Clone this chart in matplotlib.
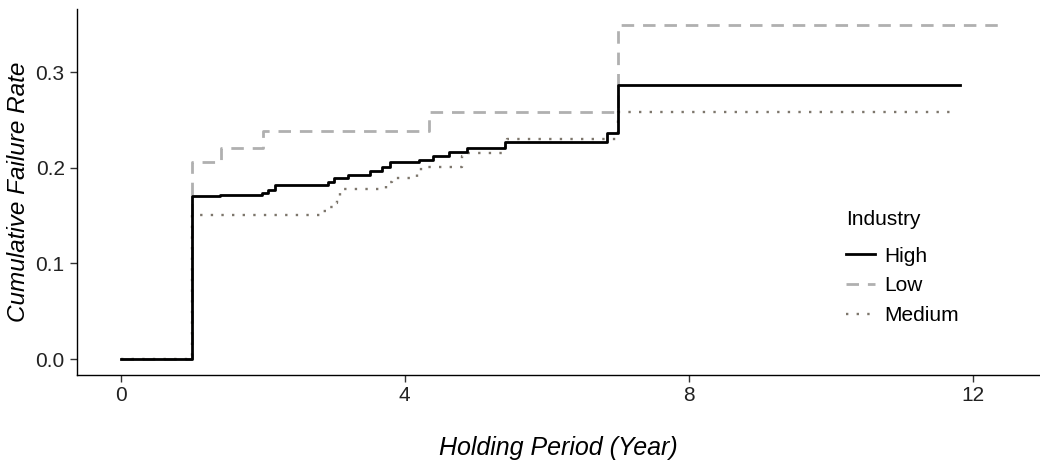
import matplotlib
matplotlib.use('Agg')
import matplotlib.pyplot as plt

plt.rcParams['font.family'] = ['Liberation Sans', 'DejaVu Sans']

# step data (time in years, cumulative failure rate)
high_t = [0, 1.0, 1.40, 1.99, 2.08, 2.17, 2.92, 3.00, 3.20, 3.51, 3.68, 3.80,
          4.20, 4.40, 4.63, 4.88, 5.42, 6.85, 7.00, 11.83]
high_y = [0, 0.170, 0.172, 0.174, 0.177, 0.182, 0.185, 0.189, 0.192, 0.197, 0.201, 0.206,
          0.208, 0.212, 0.216, 0.221, 0.227, 0.236, 0.287, 0.287]

low_t = [0, 1.0, 1.41, 2.00, 4.34, 7.00, 12.43]
low_y = [0, 0.206, 0.221, 0.238, 0.258, 0.349, 0.349]

med_t = [0, 1.0, 2.83, 2.93, 3.00, 3.05, 3.09, 3.74, 3.82, 4.17, 4.23, 4.81, 4.88,
         5.40, 5.45, 7.00, 11.69]
med_y = [0, 0.151, 0.155, 0.159, 0.163, 0.170, 0.178, 0.185, 0.189, 0.195, 0.201, 0.212, 0.215,
         0.222, 0.230, 0.258, 0.258]

fig = plt.figure(figsize=(10.4, 4.68), dpi=100)
ax = fig.add_axes([76.5 / 1040, 1 - 374.5 / 468, 1 - 76.5 / 1040, (374.5 - 9) / 468])

ax.step(high_t, high_y, where='post', color='black', lw=2.0, label='High', zorder=3)
ax.step(low_t, low_y, where='post', color='#b0b0b0', lw=2.0,
        linestyle=(0, (4.5, 3.2)), label='Low', zorder=2)
ax.step(med_t, med_y, where='post', color='#7d766c', lw=1.7,
        linestyle=(0, (1, 3.5)), label='Medium', zorder=2)

ax.set_xlim(-0.62, 12.95)
ax.set_ylim(-0.0162, 0.366)
ax.set_xticks([0, 4, 8, 12])
ax.set_yticks([0.0, 0.1, 0.2, 0.3])
ax.set_yticklabels(['0.0', '0.1', '0.2', '0.3'])
ax.tick_params(labelsize=15, colors='#333333', labelcolor='#222222', length=5, width=1)

for s in ['top', 'right']:
    ax.spines[s].set_visible(False)
for s in ['left', 'bottom']:
    ax.spines[s].set_linewidth(1.0)

ax.set_xlabel('Holding Period (Year)', fontsize=18, style='italic', labelpad=22)
ax.set_ylabel('Cumulative Failure Rate', fontsize=17.5, style='italic', labelpad=4)

leg = ax.legend(title='Industry', loc='upper left',
                bbox_to_anchor=(836 / 1040, 1 - 200 / 468), bbox_transform=fig.transFigure,
                borderpad=0, frameon=False, fontsize=15, title_fontsize=15,
                handlelength=1.35, handletextpad=0.45, labelspacing=0.51,
                alignment='left')
leg._legend_box.sep = 12.5

plt.savefig('out.png', dpi=100)
